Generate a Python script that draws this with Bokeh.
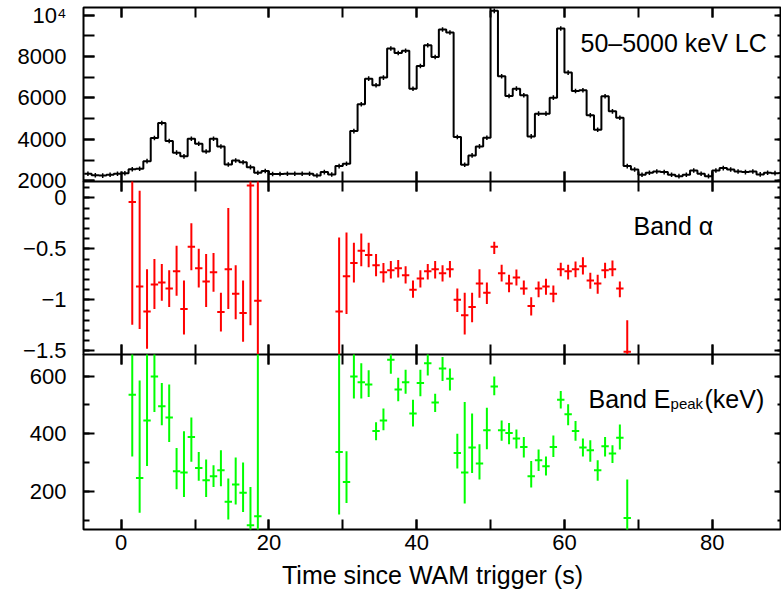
from bokeh.plotting import figure
from bokeh.layouts import column
from bokeh.models import LinearAxis, FixedTicker, Range1d, Label, ColumnDataSource
from bokeh.embed import file_html
from bokeh.resources import INLINE

FONT = "Liberation Sans"

# ---------------- data ----------------
# light curve: 1-s bins, left edges
LC_BIN_START = list(range(-5, 90))
LC_COUNTS = [2340, 2270, 2250, 2290, 2340,
             2360, 2560, 2580, 2950, 4065, 4790, 3920, 3360, 3180, 4035,
             3790, 3420, 4035, 3660, 2790, 2985, 2900, 2660, 2390, 2470,
             2330, 2330, 2340, 2340, 2340, 2340, 2260, 2420, 2300, 2710,
             2825, 4400, 5695, 6935, 6613, 6985, 8388, 8175, 8280, 6450,
             7550, 8550, 7983, 9307, 9162, 4113, 2775, 3227, 3662, 4082,
             10210, 7049, 6097, 6452, 6130, 4146, 5244, 5244, 6017, 9356,
             7227, 6339, 6371, 5162, 4470, 6081, 5355, 5050, 2710, 2550,
             2293, 2390, 2453, 2420, 2293, 2225, 2293, 2500, 2340, 2225,
             2500, 2613, 2550, 2453, 2420, 2453, 2310, 2390, 2370, 2380]
LC_ERR = 110

SP_TIME = [1.5, 2.5, 3.5, 4.5, 5.5, 6.5, 7.5, 8.5, 9.5, 10.5, 11.5, 12.5,
           13.5, 14.5, 15.5, 16.5, 17.5, 18.5,
           29.5, 30.5, 31.5, 32.5, 33.5, 34.5, 35.5, 36.5, 37.5, 38.5, 39.5,
           40.5, 41.5, 42.5, 43.5, 44.5, 45.5, 46.5, 47.5, 48.5, 49.5, 50.5,
           51.5, 52.5, 53.5, 54.5, 55.5, 56.5, 57.5, 58.5, 59.5, 60.5, 61.5,
           62.5, 63.5, 64.5, 65.5, 66.5, 67.5, 68.5]
SP_HALF_BIN = 0.5

ALPHA = [-0.04, -0.87, -1.115, -0.85, -0.83, -0.89, -0.72, -1.09, -0.48, -0.69,
         -0.82, -0.73, -1.12, -0.70, -0.94, -1.13, 0.12, -1.01,
         -1.115, -0.77, -0.64, -0.52, -0.56, -0.66, -0.73, -0.71, -0.69, -0.76,
         -0.90, -0.79, -0.72, -0.70, -0.74, -0.70, -1.00, -1.15, -1.07, -0.84,
         -0.93, -0.48, -0.74, -0.84, -0.78, -0.89, -1.06, -0.89, -0.87, -0.94,
         -0.70, -0.72, -0.70, -0.67, -0.81, -0.84, -0.71, -0.70, -0.89, -1.51]
ALPHA_LO = [-1.245, -1.285, -1.48, -1.09, -1.01, -1.07, -0.96, -1.34, -0.71, -0.88,
            -1.07, -0.92, -1.31, -1.09, -1.19, -1.41, -1.25, -1.8,
            -1.8, -1.14, -0.83, -0.67, -0.68, -0.77, -0.83, -0.79, -0.78, -0.84,
            -0.98, -0.88, -0.80, -0.79, -0.82, -0.78, -1.12, -1.34, -1.22, -0.98,
            -1.04, -0.55, -0.82, -0.925, -0.86, -0.95, -1.154, -0.974, -0.95, -1.023,
            -0.768, -0.80, -0.778, -0.752, -0.892, -0.941, -0.788, -0.768, -0.974, -1.8]
ALPHA_HI = [0.3, 0.07, -0.70, -0.60, -0.65, -0.71, -0.47, -0.81, -0.25, -0.50,
            -0.55, -0.54, -0.93, -0.10, -0.66, -0.81, 0.3, 0.3,
            -0.39, -0.34, -0.44, -0.35, -0.44, -0.55, -0.64, -0.62, -0.61, -0.67,
            -0.81, -0.71, -0.65, -0.62, -0.66, -0.62, -0.89, -0.93, -0.93, -0.70,
            -0.83, -0.43, -0.657, -0.755, -0.703, -0.81, -0.974, -0.82, -0.794, -0.86,
            -0.637, -0.657, -0.624, -0.582, -0.735, -0.755, -0.637, -0.615, -0.82, -1.20]

EPEAK = [535, 246, 446, 599, 495, 456, 269, 265, 388, 281, 238, 252, 273, 163,
         223, 195, 82, 113,
         336, 232, 599, 579, 571, 409, 446, 657, 553, 579, 470, 576, 645, 508,
         626, 591, 333, 265, 352, 296, 412, 564, 412, 402, 383, 354, 252, 308,
         287, 354, 518, 467, 409, 352, 342, 273, 356, 331, 386, 107]
EPEAK_LO = [321, 125, 288, 475, 429, 371, 207, 180, 302, 236, 180, 215, 217, 102,
            154, 128, 40, 40,
            119, 159, 522, 522, 527, 377, 412, 608, 513, 539, 425, 530, 602, 475,
            583, 550, 279, 157, 263, 241, 346, 533, 375, 363, 348, 317, 213, 270,
            255, 319, 487, 429, 375, 321, 302, 236, 321, 298, 345, 40]
EPEAK_HI = [700, 585, 700, 700, 576, 571, 350, 408, 456, 336, 310, 290, 342, 244,
            317, 300, 215, 700,
            700, 339, 700, 645, 620, 440, 487, 700, 594, 622, 518, 622, 700, 539,
            666, 626, 400, 510, 470, 363, 490, 599, 446, 437, 414, 388, 305, 345,
            321, 394, 548, 502, 444, 383, 377, 308, 388, 360, 432, 241]

X_TICKS = [0, 20, 40, 60, 80]
X_MINOR = [0, 10, 20, 30, 40, 50, 60, 70, 80]
LC_TICKS = [2000, 4000, 6000, 8000, 10000]
LC_MINOR = [2000, 3000, 4000, 5000, 6000, 7000, 8000, 9000, 10000]
LC_TICK_LABELS = {10000: "10\u2074"}
ALPHA_TICKS = [-1.5, -1.0, -0.5, 0.0]
ALPHA_MINOR = [-1.5, -1.4, -1.3, -1.2, -1.1, -1.0, -0.9, -0.8, -0.7, -0.6, -0.5,
               -0.4, -0.3, -0.2, -0.1, 0.0, 0.1]
ALPHA_TICK_LABELS = {-1.5: "\u22121.5", -1.0: "\u22121", -0.5: "\u22120.5", 0.0: "0"}
EPEAK_TICKS = [200, 400, 600]
EPEAK_MINOR = [100, 200, 300, 400, 500, 600]

# ---------------- helpers ----------------
xr = Range1d(-5.1, 89.38)


def style_axis(ax, tick_in, minor_in, labels):
    ax.major_tick_in = tick_in
    ax.major_tick_out = 0
    ax.minor_tick_in = minor_in
    ax.minor_tick_out = 0
    ax.major_tick_line_width = 2
    ax.minor_tick_line_width = 2
    ax.major_tick_line_color = "black"
    ax.minor_tick_line_color = "black"
    ax.axis_line_color = None
    if labels:
        ax.major_label_text_font = FONT
        ax.major_label_text_font_size = "22px"
        ax.major_label_text_color = "black"
    else:
        ax.major_label_text_font_size = "0px"
        ax.major_label_text_color = None
        ax.major_label_standoff = 0


def panel(yr, fh, top, bottom, overlap):
    p = figure(frame_width=698, frame_height=fh, x_range=xr, y_range=Range1d(*yr),
               output_backend="svg", toolbar_location=None,
               x_axis_location=None, y_axis_location=None,
               min_border_left=83, min_border_right=0,
               min_border_top=top, min_border_bottom=bottom,
               margin=(-overlap, 0, 0, 0))
    p.grid.visible = False
    p.outline_line_color = "black"
    p.outline_line_width = 2
    p.background_fill_color = "white"
    p.border_fill_color = None
    return p


def add_x_axes(p, show_labels):
    for loc in ("above", "below"):
        ax = LinearAxis(ticker=FixedTicker(ticks=X_TICKS, minor_ticks=X_MINOR))
        lab = show_labels and loc == "below"
        style_axis(ax, 10, 10, lab)
        if lab:
            ax.major_label_standoff = 5
            ax.axis_label = "Time since WAM trigger (s)"
            ax.axis_label_text_font = FONT
            ax.axis_label_text_font_size = "25px"
            ax.axis_label_text_font_style = "normal"
            ax.axis_label_text_color = "black"
            ax.axis_label_standoff = 8
        p.add_layout(ax, loc)


def add_y_axes(p, lticks, lminor, overrides, lmaj, lmin, rticks, rminor):
    left = LinearAxis(ticker=FixedTicker(ticks=lticks, minor_ticks=lminor),
                      major_label_overrides=overrides)
    style_axis(left, lmaj, lmin, True)
    left.major_label_standoff = 17
    p.add_layout(left, "left")
    right = LinearAxis(ticker=FixedTicker(ticks=rticks, minor_ticks=rminor))
    style_axis(right, 7, 4, False)
    p.add_layout(right, "right")


# ---------------- panel 1: light curve ----------------
p1 = panel((1966, 10372), 174, 7, 14, 0)
add_x_axes(p1, False)
add_y_axes(p1, LC_TICKS, LC_MINOR, LC_TICK_LABELS, 11, 11, LC_TICKS, LC_MINOR)

edges = LC_BIN_START + [LC_BIN_START[-1] + 1]
steps = LC_COUNTS + [LC_COUNTS[-1]]
p1.step(x=edges, y=steps, mode="after", line_color="black", line_width=2)
lc_src = ColumnDataSource(dict(
    x=[s + 0.5 for s in LC_BIN_START],
    y0=[c - LC_ERR for c in LC_COUNTS],
    y1=[c + LC_ERR for c in LC_COUNTS]))
p1.segment(x0="x", y0="y0", x1="x", y1="y1", source=lc_src, line_color="black", line_width=1.5)
p1.add_layout(Label(x=62.17, y=8660, text="50\u20135000 keV LC", text_font=FONT,
                    text_font_size="25px", text_color="black",
                    text_align="left", text_baseline="alphabetic"))

# ---------------- panel 2: alpha ----------------
p2 = panel((-1.536, 0.16), 173, 0, 12, 14)
add_x_axes(p2, False)
add_y_axes(p2, ALPHA_TICKS, ALPHA_MINOR, ALPHA_TICK_LABELS, 11, 6, ALPHA_TICKS, ALPHA_MINOR)
a_src = ColumnDataSource(dict(
    t=SP_TIME, v=ALPHA, lo=ALPHA_LO, hi=ALPHA_HI,
    tl=[t - SP_HALF_BIN for t in SP_TIME], tr=[t + SP_HALF_BIN for t in SP_TIME]))
p2.segment(x0="t", y0="lo", x1="t", y1="hi", source=a_src, line_color="#ff0000", line_width=2)
p2.segment(x0="tl", y0="v", x1="tr", y1="v", source=a_src, line_color="#ff0000", line_width=2)
p2.add_layout(Label(x=69.35, y=-0.272, text="Band \u03b1", text_font=FONT,
                    text_font_size="25px", text_color="black",
                    text_align="left", text_baseline="alphabetic"))

# ---------------- panel 3: Epeak ----------------
p3 = panel((67, 675), 175, 0, 67, 12)
add_x_axes(p3, True)
add_y_axes(p3, EPEAK_TICKS, EPEAK_MINOR, {200: "200", 400: "400", 600: "600"}, 11, 6,
           EPEAK_TICKS, EPEAK_MINOR)
e_src = ColumnDataSource(dict(
    t=SP_TIME, v=EPEAK, lo=EPEAK_LO, hi=EPEAK_HI,
    tl=[t - SP_HALF_BIN for t in SP_TIME], tr=[t + SP_HALF_BIN for t in SP_TIME]))
p3.segment(x0="t", y0="lo", x1="t", y1="hi", source=e_src, line_color="#00ff00", line_width=2)
p3.segment(x0="tl", y0="v", x1="tr", y1="v", source=e_src, line_color="#00ff00", line_width=2)
p3.add_layout(Label(x=63.26, y=521.6, text="Band E", text_font=FONT,
                    text_font_size="25px", text_color="black",
                    text_align="left", text_baseline="alphabetic"))
p3.add_layout(Label(x=74.36, y=504, text="peak", text_font=FONT,
                    text_font_size="15px", text_color="black",
                    text_align="left", text_baseline="alphabetic"))
p3.add_layout(Label(x=78.96, y=521.6, text="(keV)", text_font=FONT,
                    text_font_size="25px", text_color="black",
                    text_align="left", text_baseline="alphabetic"))

layout = column(p1, p2, p3, spacing=0)
open("out.html", "w").write(file_html(layout, INLINE))
